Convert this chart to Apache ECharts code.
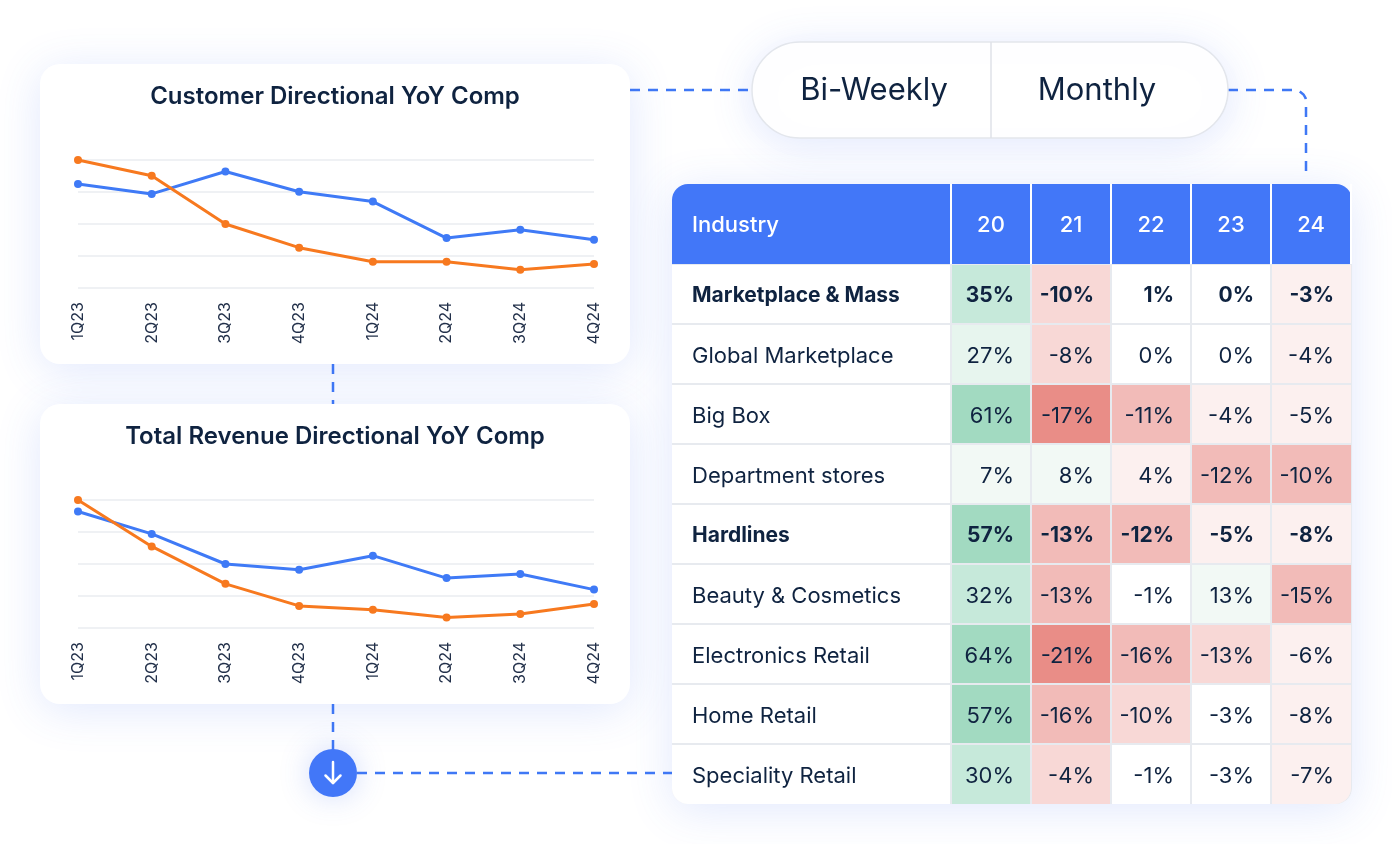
<!DOCTYPE html>
<html>
<head>
<meta charset="utf-8">
<script src="https://cdn.jsdelivr.net/npm/echarts@6/dist/echarts.min.js"></script>
<style>
html,body{margin:0;padding:0;background:#ffffff;}
#main{width:1392px;height:844px;}
</style>
</head>
<body>
<div id="main"></div>
<script>
// ---------- DATA ----------
const quarters = ['1Q23','2Q23','3Q23','4Q23','1Q24','2Q24','3Q24','4Q24'];
const customerBlue   = [3.25, 2.94, 3.64, 3.01, 2.70, 1.56, 1.82, 1.51];
const customerOrange = [4.00, 3.51, 2.00, 1.26, 0.82, 0.82, 0.57, 0.75];
const revenueBlue    = [3.64, 2.94, 2.00, 1.82, 2.26, 1.56, 1.69, 1.20];
const revenueOrange  = [4.00, 2.55, 1.38, 0.69, 0.57, 0.33, 0.44, 0.75];

const years = ['20','21','22','23','24'];
const industries = ['Marketplace & Mass','Global Marketplace','Big Box','Department stores','Hardlines','Beauty & Cosmetics','Electronics Retail','Home Retail','Speciality Retail'];
const boldRows = ['Marketplace & Mass','Hardlines'];
const yoyValues = [
  [35,-10,1,0,-3],
  [27,-8,0,0,-4],
  [61,-17,-11,-4,-5],
  [7,8,4,-12,-10],
  [57,-13,-12,-5,-8],
  [32,-13,-1,13,-15],
  [64,-21,-16,-13,-6],
  [57,-16,-10,-3,-8],
  [30,-4,-1,-3,-7]
];
// shading level of each cell (g = green, r = red, w = neutral; higher = stronger)
const cellTone = [
  ['g2','r1','w','w','r0'],
  ['g1','r1','w','w','r0'],
  ['g3','r3','r2','r0','r0'],
  ['g0','g0','r0','r2','r2'],
  ['g3','r2','r2','r0','r0'],
  ['g2','r2','w','g0','r2'],
  ['g3','r3','r2','r1','r0'],
  ['g3','r2','r1','w','r0'],
  ['g2','r1','w','w','r0']
];
const toggleLabels = ['Bi-Weekly','Monthly'];
const chartTitles = ['Customer Directional YoY Comp','Total Revenue Directional YoY Comp'];

// ---------- STYLE ----------
const FONT = 'Inter, "Noto Sans", sans-serif';
const NAVY = '#0f2340';
const BLUE = '#3f7af6';
const ORANGE = '#f7791f';
const HEADER = '#4277f8';
const DASH = '#3f78f5';
const toneColor = {
  g3:'#a2dac1', g2:'#c6e9da', g1:'#e7f5ee', g0:'#f2f9f5', w:'#ffffff',
  r0:'#fcf0ef', r1:'#f8d8d6', r2:'#f2bbb8', r3:'#e98d87'
};
const TABLE = {left:672, right:1352, top:184, header:80, bodyTop:264, bottom:804, colLeft:951};

const cellData = [];
yoyValues.forEach((row, r) => row.forEach((v, c) => {
  cellData.push([c, r, v, cellTone[r][c], boldRows.includes(industries[r]) ? 1 : 0]);
}));

const shadow = {shadowBlur: 45, shadowColor: 'rgba(70,110,240,0.16)', shadowOffsetY: 6};

function dashed(points) {
  return {type: 'polyline', z: 0, shape: {points: points},
    style: {stroke: DASH, lineWidth: 2.5, lineDash: [10, 8], fill: null}};
}

const graphics = [
  // connectors
  dashed([[630,90],[752,90]]),
  dashed([[1228,90],[1294,90],[1299.5,91.2],[1303.5,94.5],[1305.5,98],[1306,102],[1306,174]]),
  dashed([[333,364],[333,404]]),
  dashed([[333,704],[333,750]]),
  dashed([[357,773],[672,773]]),
  // cards
  {type:'rect', z:1, shape:{x:40, y:64, width:590, height:300, r:20}, style:Object.assign({fill:'#fff'}, shadow)},
  {type:'rect', z:1, shape:{x:40, y:404, width:590, height:300, r:20}, style:Object.assign({fill:'#fff'}, shadow)},
  {type:'text', z:2, x:335, y:97, style:{text:chartTitles[0], fill:NAVY, font:'600 24px ' + FONT, align:'center', verticalAlign:'middle'}},
  {type:'text', z:2, x:335, y:437, style:{text:chartTitles[1], fill:NAVY, font:'600 24px ' + FONT, align:'center', verticalAlign:'middle'}},
  // toggle
  {type:'rect', z:1, shape:{x:752, y:42, width:476, height:96, r:48}, style:Object.assign({fill:'#fff', stroke:'#e3e6ec', lineWidth:1.5}, shadow)},
  {type:'line', z:2, shape:{x1:991, y1:42, x2:991, y2:138}, style:{stroke:'#dfe2e8', lineWidth:1.5}},
  {type:'text', z:2, x:874, y:91, style:{text:toggleLabels[0], fill:NAVY, font:'400 31px ' + FONT, align:'center', verticalAlign:'middle'}},
  {type:'text', z:2, x:1097, y:91, style:{text:toggleLabels[1], fill:NAVY, font:'400 31px ' + FONT, align:'center', verticalAlign:'middle'}},
  // table card
  {type:'rect', z:1, shape:{x:TABLE.left, y:TABLE.top, width:TABLE.right-TABLE.left, height:TABLE.bottom-TABLE.top, r:16}, style:Object.assign({fill:'#fff'}, shadow)},
  {type:'rect', z:2, shape:{x:TABLE.left, y:TABLE.bodyTop, width:TABLE.right-TABLE.left, height:TABLE.bottom-TABLE.bodyTop, r:[0,0,16,16]}, style:{fill:'#e7eaef'}},
  {type:'rect', z:2, shape:{x:TABLE.left, y:TABLE.top, width:TABLE.right-TABLE.left, height:TABLE.header, r:[16,16,0,0]}, style:{fill:HEADER}},
  {type:'text', z:3, x:692, y:225, style:{text:'Industry', fill:'#fff', font:'500 22px ' + FONT, align:'left', verticalAlign:'middle'}},
  // circle button
  {type:'circle', z:1, shape:{cx:333, cy:773, r:24}, style:{fill:HEADER, shadowBlur:30, shadowColor:'rgba(70,110,240,0.25)'}},
  {type:'polyline', z:2, shape:{points:[[333,762],[333,783]]}, style:{stroke:'#fff', lineWidth:2.5, lineCap:'round', fill:null}},
  {type:'polyline', z:2, shape:{points:[[325.5,775.5],[333,783],[340.5,775.5]]}, style:{stroke:'#fff', lineWidth:2.5, lineCap:'round', lineJoin:'round', fill:null}}
];

function lineXAxis(gi) {
  return {type:'category', gridIndex:gi, data:quarters, boundaryGap:false, z:3,
    axisLine:{show:false}, axisTick:{show:false},
    axisLabel:{rotate:90, margin:14, fontSize:16, color:'#22304a', fontFamily:FONT}};
}
function lineYAxis(gi) {
  return {type:'value', gridIndex:gi, min:0, max:4, interval:1, z:3,
    axisLabel:{show:false}, axisLine:{show:false}, axisTick:{show:false},
    splitLine:{show:true, lineStyle:{color:'#eff1f4', width:2}}};
}
function lineSeries(name, data, color, xi) {
  return {type:'line', name:name, xAxisIndex:xi, yAxisIndex:xi, data:data, z:4,
    symbol:'circle', symbolSize:8, showSymbol:true,
    lineStyle:{color:color, width:3}, itemStyle:{color:color}};
}

const option = {
  animation:false,
  backgroundColor:'#ffffff',
  graphic: {elements: graphics},
  grid:[
    {left:78, top:160, width:516, height:128},
    {left:78, top:500, width:516, height:128},
    {left:TABLE.colLeft, top:TABLE.bodyTop, width:400, height:540}
  ],
  xAxis:[
    lineXAxis(0), lineXAxis(1),
    {type:'category', gridIndex:2, data:years, position:'top', z:10,
      axisLine:{show:false},
      axisTick:{show:true, length:80, alignWithLabel:false, lineStyle:{color:'#ffffff', width:2}},
      axisLabel:{color:'#fff', fontSize:22, fontWeight:500, fontFamily:FONT, margin:39, verticalAlign:'middle'},
      splitLine:{show:false}}
  ],
  yAxis:[
    lineYAxis(0), lineYAxis(1),
    {type:'category', gridIndex:2, data:industries, inverse:true, z:10,
      axisLine:{show:false}, axisTick:{show:false}, splitLine:{show:false},
      axisLabel:{align:'left', margin:TABLE.colLeft-692, fontSize:22, color:NAVY, fontFamily:FONT,
        formatter:(v)=> boldRows.includes(v) ? '{b|' + v + '}' : '{n|' + v + '}',
        rich:{b:{fontSize:21, fontWeight:700, color:NAVY, fontFamily:FONT, padding:[4,0,0,0]}, n:{fontSize:22, fontWeight:400, color:NAVY, fontFamily:FONT, padding:[4,0,0,0]}}}}
  ],
  series:[
    lineSeries('Blue', customerBlue, BLUE, 0),
    lineSeries('Orange', customerOrange, ORANGE, 0),
    lineSeries('Blue', revenueBlue, BLUE, 1),
    lineSeries('Orange', revenueOrange, ORANGE, 1),
    {type:'custom', xAxisIndex:2, yAxisIndex:2, z:5, data:cellData,
      encode:{x:0, y:1},
      renderItem:function(params, api){
        const c = api.value(0), r = api.value(1), v = api.value(2);
        const tone = cellData[params.dataIndex][3];
        const bold = cellData[params.dataIndex][4];
        const ctr = api.coord([c, r]);
        const sz = api.size([1, 1]);
        const w = sz[0], h = sz[1];
        const lastC = years.length - 1, lastR = industries.length - 1;
        const x0 = ctr[0] - w/2 + 1, y0 = ctr[1] - h/2 + 1;
        const cw = w - (c === lastC ? 1 : 2);
        const ch = h - (r === lastR ? 1 : 2);
        const children = [];
        if (c === 0) {
          children.push({type:'rect', shape:{x:TABLE.left, y:y0, width:x0 - 2 - TABLE.left, height:ch, r: r === lastR ? [0,0,0,16] : 0},
            style:{fill:'#ffffff'}});
        }
        children.push({type:'rect', shape:{x:x0, y:y0, width:cw, height:ch, r:(c === lastC && r === lastR) ? [0,0,16,0] : 0},
          style:{fill:toneColor[tone]}});
        children.push({type:'text', x:ctr[0] + w/2 - 17, y:ctr[1] + 2,
          style:{text:v + '%', fill:NAVY, font:(bold ? '700 21px ' : '400 22px ') + FONT, align:'right', verticalAlign:'middle'}});
        return {type:'group', children:children};
      }}
  ]
};

const chart = echarts.init(document.getElementById('main'));
chart.setOption(option);
</script>
</body>
</html>
